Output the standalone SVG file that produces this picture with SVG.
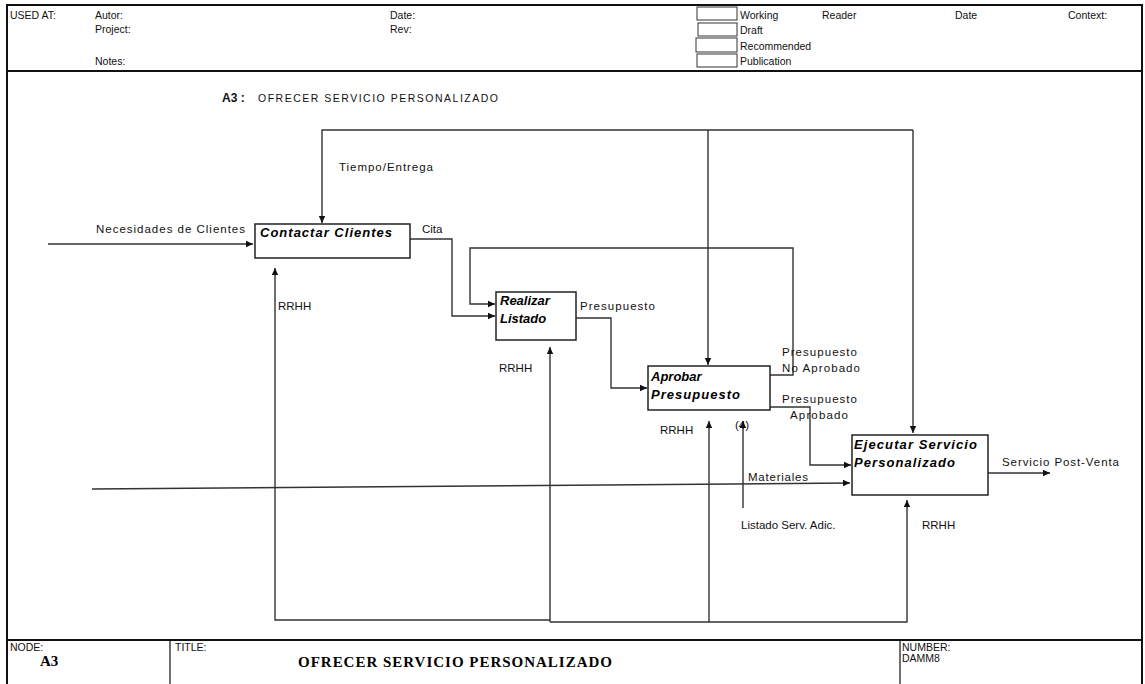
<svg xmlns="http://www.w3.org/2000/svg" width="1145" height="684" viewBox="0 0 1145 684">
<style>
.frame{fill:none;stroke:#111;stroke-width:2}
.box{fill:#fff;stroke:#222;stroke-width:1.5}
.cb{fill:#fff;stroke:#333;stroke-width:1}
.ln{fill:none;stroke:#333;stroke-width:1.4}
.t{font-family:"Liberation Sans",Arial,sans-serif;font-size:11.5px;fill:#111}
.h{font-family:"Liberation Sans",Arial,sans-serif;font-size:10.5px;fill:#111}
.b{font-family:"Liberation Sans",Arial,sans-serif;font-size:13px;font-weight:bold;font-style:italic;fill:#000}
.ft{font-family:"Liberation Serif","Times New Roman",serif;font-size:15px;font-weight:bold;fill:#000}
</style>
<defs>
<marker id="ar" markerWidth="8" markerHeight="8" refX="7" refY="4" orient="auto" markerUnits="userSpaceOnUse">
<path d="M0,0.8 L7,4 L0,7.2 Z" fill="#111"/>
</marker>
</defs>
<rect width="1145" height="684" fill="#fff"/>
<g id="frame">
<rect class="frame" x="7" y="5" width="1135" height="680"/>
<line class="frame" x1="7" y1="71" x2="1142" y2="71"/>
<line class="frame" x1="7" y1="640" x2="1142" y2="640"/>
<line stroke="#111" stroke-width="1.2" x1="170" y1="640" x2="170" y2="684"/>
<line stroke="#111" stroke-width="1.2" x1="900" y1="640" x2="900" y2="684"/>
</g>
<g id="header">
<text class="h" x="10" y="19">USED AT:</text>
<text class="h" x="95" y="19">Autor:</text>
<text class="h" x="95" y="33">Project:</text>
<text class="h" x="95" y="65">Notes:</text>
<text class="h" x="390" y="19">Date:</text>
<text class="h" x="390" y="33">Rev:</text>
<rect class="cb" x="697" y="7" width="40" height="13"/>
<rect class="cb" x="698" y="23" width="39" height="13"/>
<rect class="cb" x="696" y="38" width="41" height="14"/>
<rect class="cb" x="697" y="54" width="40" height="13"/>
<text class="h" x="740" y="19">Working</text>
<text class="h" x="740" y="34">Draft</text>
<text class="h" x="740" y="50">Recommended</text>
<text class="h" x="740" y="65">Publication</text>
<text class="h" x="822" y="19">Reader</text>
<text class="h" x="955" y="19">Date</text>
<text class="h" x="1068" y="19">Context:</text>
</g>
<g id="diagram-title">
<text x="222" y="102" font-family="Liberation Sans,Arial,sans-serif" font-size="12px" font-weight="bold" fill="#111">A3 :</text>
<text class="h" x="258" y="102" textLength="240">OFRECER SERVICIO PERSONALIZADO</text>
</g>
<g id="connectors">
<path class="ln" d="M48,244 H253" marker-end="url(#ar)"/>
<path class="ln" d="M913,130 H322 V223" marker-end="url(#ar)"/>
<path class="ln" d="M708,130 V365" marker-end="url(#ar)"/>
<path class="ln" d="M913,130 V433" marker-end="url(#ar)"/>
<path class="ln" d="M410,239 H452 V316 H495" marker-end="url(#ar)"/>
<path class="ln" d="M770,375 H793 V248 H470 V304 H495" marker-end="url(#ar)"/>
<path class="ln" d="M576,318 H611 V388 H647" marker-end="url(#ar)"/>
<path class="ln" d="M770,407 H810 V465 H851" marker-end="url(#ar)"/>
<path class="ln" d="M988,473 H1050" marker-end="url(#ar)"/>
<path class="ln" d="M92,489 L850,483" marker-end="url(#ar)"/>
<path class="ln" d="M550,620 H275 V268" marker-end="url(#ar)"/>
<path class="ln" d="M550,622 V347" marker-end="url(#ar)"/>
<path class="ln" d="M550,622 H907 V500" marker-end="url(#ar)"/>
<path class="ln" d="M709,622 V421" marker-end="url(#ar)"/>
<path class="ln" d="M743,508 V421" marker-end="url(#ar)"/>
</g>
<g id="labels">
<text class="t" x="96" y="233" textLength="149">Necesidades de Clientes</text>
<text class="t" x="339" y="171" textLength="94">Tiempo/Entrega</text>
<text class="t" x="422" y="233">Cita</text>
<text class="t" x="278" y="310">RRHH</text>
<text class="t" x="580" y="310" textLength="75">Presupuesto</text>
<text class="t" x="499" y="372">RRHH</text>
<text class="t" x="782" y="356" textLength="75">Presupuesto</text>
<text class="t" x="782" y="372" textLength="78">No Aprobado</text>
<text class="t" x="782" y="403" textLength="75">Presupuesto</text>
<text class="t" x="790" y="419" textLength="58">Aprobado</text>
<text class="t" x="660" y="434">RRHH</text>
<text class="t" x="735" y="429">(4)</text>
<text class="t" x="748" y="481" textLength="60">Materiales</text>
<text class="t" x="1002" y="466" textLength="117">Servicio Post-Venta</text>
<text class="t" x="741" y="529">Listado Serv. Adic.</text>
<text class="t" x="922" y="529">RRHH</text>
</g>
<g id="node-A31">
<rect class="box" x="255" y="224" width="155" height="34"/>
<text class="b" x="260" y="237" textLength="132">Contactar Clientes</text>
</g>
<g id="node-A32">
<rect class="box" x="496" y="292" width="80" height="48"/>
<text class="b" x="500" y="305">Realizar</text>
<text class="b" x="500" y="323">Listado</text>
</g>
<g id="node-A33">
<rect class="box" x="648" y="366" width="122" height="44"/>
<text class="b" x="651" y="381">Aprobar</text>
<text class="b" x="651" y="399" textLength="89">Presupuesto</text>
</g>
<g id="node-A34">
<rect class="box" x="852" y="435" width="136" height="60"/>
<text class="b" x="854" y="449" textLength="123">Ejecutar Servicio</text>
<text class="b" x="854" y="467" textLength="101">Personalizado</text>
</g>
<g id="footer">
<text class="h" x="10" y="651">NODE:</text>
<text class="ft" x="40" y="666">A3</text>
<text class="h" x="175" y="651">TITLE:</text>
<text class="ft" x="298" y="667" textLength="314">OFRECER SERVICIO PERSONALIZADO</text>
<text class="h" x="902" y="651">NUMBER:</text>
<text class="h" x="902" y="662">DAMM8</text>
</g>
</svg>
